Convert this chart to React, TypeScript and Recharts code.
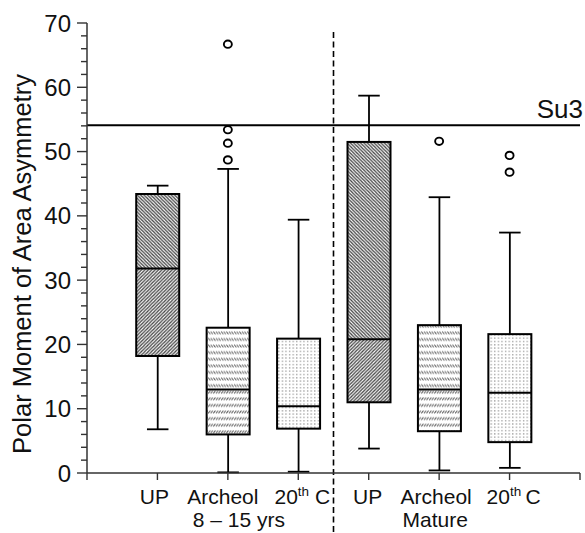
import React from 'react';
import { ComposedChart, Bar, Scatter, XAxis, YAxis, ReferenceLine } from 'recharts';

const categories = ['UP', 'Archeol', '20th C', 'UP', 'Archeol', '20th C'];
const groupLabels = ['8 – 15 yrs', 'Mature'];
const positions = [1, 2, 3, 4, 5, 6];
const whiskerLow = [6.8, 0.1, 0.2, 3.8, 0.4, 0.8];
const quartile1 = [18.2, 6.0, 6.9, 11.0, 6.5, 4.8];
const medians = [31.8, 13.0, 10.4, 20.8, 13.0, 12.5];
const quartile3 = [43.4, 22.6, 20.9, 51.5, 23.0, 21.6];
const whiskerHigh = [44.7, 47.3, 39.4, 58.7, 42.9, 37.4];
const outlierPositions = [2, 2, 2, 2, 5, 6, 6];
const outlierValues = [66.7, 53.4, 51.3, 48.7, 51.6, 49.4, 46.8];
const majorTicks = [0, 10, 20, 30, 40, 50, 60, 70];
const allYTicks = [0, 2, 4, 6, 8, 10, 12, 14, 16, 18, 20, 22, 24, 26, 28, 30, 32, 34, 36, 38, 40, 42, 44, 46, 48, 50, 52, 54, 56, 58, 60, 62, 64, 66, 68, 70];
const xTicks = [0, 1, 2, 3, 4, 5, 6, 7];
const su3Value = 54.1;
const su3Label = 'Su3';
const dividerX = 3.5;
const yLabel = 'Polar Moment of Area Asymmetry';

const fillKinds: Record<string, [string, string]> = {
  UP: ['url(#diagDown)', 'url(#diagUp)'],
  Archeol: ['url(#dashDown)', 'url(#dashUp)'],
  '20th C': ['url(#dots)', 'url(#dots)'],
};

// small horizontal nudges of the category labels (layout only)
const labelNudge = [-3, -5, 4, -1, -3, 4];

const boxData = positions.map((p, i) => ({
  x: p,
  name: categories[i],
  lo: whiskerLow[i],
  q1: quartile1[i],
  med: medians[i],
  q3: quartile3[i],
  hi: whiskerHigh[i],
}));

const outlierData = outlierPositions.map((p, i) => ({ x: p, y: outlierValues[i] }));

const FONT = '"Liberation Sans", Arial, Helvetica, sans-serif';

const BoxShape = (props: any) => {
  const { x, y, width, height, payload } = props;
  const { lo, q1, med, q3, hi, name } = payload;
  const pix = (v: number) => y + ((hi - v) / (hi - lo)) * height;
  const cx = x + width / 2;
  const capW = width * 0.5;
  const [fUp, fLow] = fillKinds[name];
  const yq3 = pix(q3);
  const yq1 = pix(q1);
  const ym = pix(med);
  return (
    <g>
      <line x1={cx} x2={cx} y1={pix(hi)} y2={yq3} stroke="#000" strokeWidth={1.8} />
      <line x1={cx} x2={cx} y1={yq1} y2={pix(lo)} stroke="#000" strokeWidth={1.8} />
      <line x1={cx - capW / 2} x2={cx + capW / 2} y1={pix(hi)} y2={pix(hi)} stroke="#000" strokeWidth={1.8} />
      <line x1={cx - capW / 2} x2={cx + capW / 2} y1={pix(lo)} y2={pix(lo)} stroke="#000" strokeWidth={1.8} />
      <rect x={x} y={yq3} width={width} height={ym - yq3} fill="#fff" />
      <rect x={x} y={yq3} width={width} height={ym - yq3} fill={fUp} />
      <rect x={x} y={ym} width={width} height={yq1 - ym} fill="#fff" />
      <rect x={x} y={ym} width={width} height={yq1 - ym} fill={fLow} />
      <rect x={x} y={yq3} width={width} height={yq1 - yq3} fill="none" stroke="#000" strokeWidth={2} />
      <line x1={x} x2={x + width} y1={ym} y2={ym} stroke="#000" strokeWidth={2} />
    </g>
  );
};

const OutlierShape = (props: any) => {
  const { cx, cy } = props;
  return <ellipse cx={cx} cy={cy} rx={4} ry={3.7} fill="#fff" stroke="#000" strokeWidth={1.9} />;
};

const YTick = (props: any) => {
  const { x, y, payload } = props;
  const v = payload.value;
  const major = majorTicks.includes(v);
  const len = major ? 10 : 6;
  return (
    <g>
      <line x1={x - len} x2={x} y1={y} y2={y} stroke="#333" strokeWidth={1.4} />
      {major && (
        <text x={x - 16} y={y + 8.5} textAnchor="end" fontSize={24} fontFamily={FONT} fill="#111">
          {v}
        </text>
      )}
    </g>
  );
};

const XTick = (props: any) => {
  const { x, y, payload } = props;
  const v = payload.value;
  const idx = positions.indexOf(v);
  if (idx < 0) return <g />;
  const label = categories[idx];
  const baseY = y + 21.5;
  const lx = x + labelNudge[idx];
  let main: React.ReactNode;
  if (label === '20th C') {
    main = (
      <text x={lx} y={baseY} textAnchor="middle" fontSize={21} fontFamily={FONT} fill="#111">
        <tspan>20</tspan>
        <tspan fontSize={13.5} dy={-8}>th</tspan>
        <tspan dy={8}>{idx < 3 ? ' C' : '\u2009C'}</tspan>
      </text>
    );
  } else {
    main = (
      <text x={lx} y={baseY} textAnchor="middle" fontSize={21} fontFamily={FONT} fill="#111">
        {label}
      </text>
    );
  }
  let group: React.ReactNode = null;
  if (v === 2) {
    group = (
      <text x={x + 11} y={baseY + 23.5} textAnchor="middle" fontSize={21} fontFamily={FONT} fill="#111">
        {groupLabels[0]}
      </text>
    );
  } else if (v === 5) {
    group = (
      <text x={x - 4} y={baseY + 23.5} textAnchor="middle" fontSize={21} fontFamily={FONT} fill="#111">
        {groupLabels[1]}
      </text>
    );
  }
  return (
    <g>
      {main}
      {group}
    </g>
  );
};

const YLabel = (props: any) => {
  const { viewBox } = props;
  const cx = viewBox.x + 22;
  const cy = viewBox.y + viewBox.height / 2 + 16;
  return (
    <text
      x={cx}
      y={cy}
      transform={`rotate(-90, ${cx}, ${cy})`}
      textAnchor="middle"
      dominantBaseline="central"
      fontSize={25.5}
      fontFamily={FONT}
      fill="#111"
    >
      {yLabel}
    </text>
  );
};

const Su3Label = (props: any) => {
  const { viewBox } = props;
  return (
    <text
      x={viewBox.x + viewBox.width + 3}
      y={viewBox.y - 7}
      textAnchor="end"
      fontSize={26}
      fontFamily={FONT}
      fill="#111"
    >
      {su3Label}
    </text>
  );
};

export default function App() {
  return (
    <div style={{ position: 'absolute', left: 0, top: 0, width: 585, height: 533, background: '#fff' }}>
      <ComposedChart
        width={585}
        height={533}
        data={boxData}
        margin={{ top: 23, right: 5, bottom: 0, left: 0 }}
      >
        <defs>
          <pattern id="diagDown" width={3.4} height={3.4} patternUnits="userSpaceOnUse">
            <rect width={3.4} height={3.4} fill="#fff" />
            <path d="M-1,-1 L4.4,4.4 M-1,2.4 L1,4.4 M2.4,-1 L4.4,1" stroke="#444" strokeWidth={1.3} />
          </pattern>
          <pattern id="diagUp" width={3.4} height={3.4} patternUnits="userSpaceOnUse">
            <rect width={3.4} height={3.4} fill="#fff" />
            <path d="M-1,4.4 L4.4,-1 M-1,1 L1,-1 M2.4,4.4 L4.4,2.4" stroke="#444" strokeWidth={1.3} />
          </pattern>
          <pattern id="dashDown" width={2.6} height={6.6} patternUnits="userSpaceOnUse">
            <rect width={2.6} height={6.6} fill="#fff" />
            <path d="M0.2,1.4 L2.2,4.2" stroke="#555" strokeWidth={1} />
          </pattern>
          <pattern id="dashUp" width={2.6} height={6.6} patternUnits="userSpaceOnUse">
            <rect width={2.6} height={6.6} fill="#fff" />
            <path d="M0.2,4.2 L2.2,1.4" stroke="#555" strokeWidth={1} />
          </pattern>
          <pattern id="dots" width={3.6} height={3.3} patternUnits="userSpaceOnUse">
            <rect width={3.6} height={3.3} fill="#fff" />
            <rect x={1} y={1} width={1.2} height={1.2} fill="#888" />
          </pattern>
        </defs>
        <XAxis
          dataKey="x"
          type="number"
          domain={[0, 7]}
          ticks={xTicks}
          interval={0}
          height={60}
          axisLine={{ stroke: '#333', strokeWidth: 1.5 }}
          tickLine={{ stroke: '#333', strokeWidth: 1.4 }}
          tickSize={7}
          tickMargin={2}
          tick={<XTick />}
        />
        <YAxis
          type="number"
          domain={[0, 70]}
          ticks={allYTicks}
          interval={0}
          width={87}
          axisLine={{ stroke: '#333', strokeWidth: 1.5 }}
          tickLine={false}
          tickSize={0}
          tickMargin={0}
          tick={<YTick />}
          label={<YLabel />}
        />
        <ReferenceLine
          y={su3Value}
          stroke="#000"
          strokeWidth={2}
          label={<Su3Label />}
        />
        <ReferenceLine
          segment={[{ x: dividerX, y: 68.6 }, { x: dividerX, y: -10 }]}
          stroke="#000"
          strokeWidth={1.6}
          strokeDasharray="6 3.5"
          ifOverflow="visible"
        />
        <Bar
          dataKey={(d: any) => [d.lo, d.hi]}
          barSize={43}
          shape={<BoxShape />}
          isAnimationActive={false}
        />
        <Scatter
          data={outlierData}
          dataKey="y"
          shape={<OutlierShape />}
          isAnimationActive={false}
        />
      </ComposedChart>
    </div>
  );
}
